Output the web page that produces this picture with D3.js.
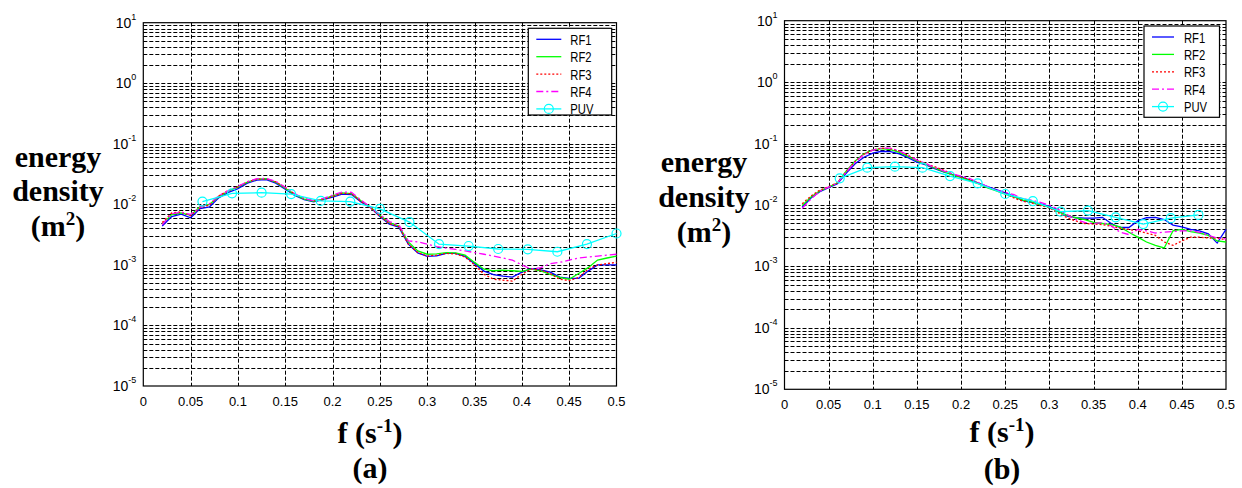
<!DOCTYPE html>
<html lang="en">
<head>
<meta charset="utf-8">
<title>Energy density spectra RF vs PUV</title>
<script src="https://d3js.org/d3.v7.min.js"></script>
<style>
body { margin: 0; background: #fff; }
.tick-label { font-family: "Liberation Sans", Arial, sans-serif; font-size: 13px; fill: #000; }
.big { font-family: "Liberation Serif", "Times New Roman", serif; font-weight: bold; font-size: 30px; fill: #000; }
.leg { font-family: "Liberation Sans", Arial, sans-serif; font-size: 15px; fill: #000; }
</style>
</head>
<body>
<div id="chart"></div>
<script>
var width = 1242, height = 488;

// frequencies of the RF spectra (both panels)
var freq = [0.02,0.03,0.04,0.05,0.06,0.07,0.08,0.09,0.10,0.11,0.12,0.13,0.14,0.15,0.16,0.17,0.18,0.19,0.20,
            0.21,0.22,0.23,0.24,0.25,0.26,0.27,0.28,0.29,0.30,0.31,0.32,0.33,0.34,0.35,0.36,0.37,0.38,0.39,0.40,
            0.41,0.42,0.43,0.44,0.45,0.46,0.47,0.48,0.49,0.50];

// panel (a)
var a_rf1 = [0.0044,0.0063,0.0069,0.0060,0.0085,0.0091,0.0129,0.0158,0.0182,0.0224,0.0251,0.0257,0.0224,0.0178,0.0141,0.0120,0.0110,0.0120,0.0132,
             0.0148,0.0145,0.0110,0.0089,0.0063,0.0047,0.0042,0.0022,0.00158,0.00138,0.00141,0.00155,0.00155,0.00138,0.00105,0.00079,0.00069,0.00065,0.00063,0.00076,
             0.00087,0.00083,0.00076,0.00063,0.00060,0.00060,0.00079,0.0010,0.0010,0.0010];
var a_rf2 = [0.0047,0.0068,0.0072,0.0066,0.0092,0.0100,0.0135,0.0165,0.0192,0.0232,0.0262,0.0265,0.0232,0.0185,0.0145,0.0122,0.0112,0.0122,0.0138,
             0.0155,0.0150,0.0115,0.0090,0.0066,0.0050,0.0044,0.0024,0.0017,0.00150,0.00152,0.00160,0.00158,0.00145,0.00110,0.00085,0.00080,0.00082,0.00080,0.00078,
             0.00085,0.00080,0.00070,0.00062,0.00058,0.00072,0.00090,0.00120,0.00130,0.00140];
var a_rf3 = [0.0050,0.0072,0.0075,0.0065,0.0088,0.0098,0.0138,0.0170,0.0195,0.0235,0.0260,0.0262,0.0235,0.0190,0.0148,0.0125,0.0114,0.0120,0.0135,
             0.0152,0.0150,0.0112,0.0088,0.0064,0.0048,0.0043,0.0022,0.0016,0.00140,0.00145,0.00155,0.00152,0.00135,0.00100,0.00070,0.00058,0.00056,0.00054,0.00070,
             0.00085,0.00082,0.00072,0.00058,0.00055,0.00062,0.00085,0.00100,0.00105,0.00110];
var a_rf4 = [0.0046,0.0070,0.0074,0.0068,0.0090,0.0102,0.0140,0.0168,0.0198,0.0238,0.0265,0.0268,0.0240,0.0192,0.0150,0.0125,0.0115,0.0125,0.0142,
             0.0160,0.0158,0.0118,0.0090,0.0068,0.0052,0.0046,0.0025,0.0024,0.0022,0.0020,0.0019,0.0018,0.0017,0.0016,0.0015,0.0014,0.0013,0.0012,0.0010,
             0.00085,0.00090,0.00105,0.00110,0.00120,0.00130,0.00135,0.00140,0.00145,0.00150];
var a_puvFreq = [0.0625,0.09375,0.125,0.15625,0.1875,0.21875,0.25,0.28125,0.3125,0.34375,0.375,0.40625,0.4375,0.46875,0.5];
var a_puv = [0.0111,0.0152,0.0156,0.0148,0.0114,0.0111,0.0084,0.0051,0.0022,0.00205,0.00183,0.00181,0.00165,0.0022,0.0033];

// panel (b)
var b_rf1 = [0.0092,0.0130,0.0165,0.0192,0.0222,0.0330,0.0470,0.0600,0.0700,0.0750,0.0740,0.0680,0.0590,0.0500,0.0450,0.0390,0.0345,0.0315,0.0290,
             0.0255,0.0228,0.0200,0.0178,0.0158,0.0138,0.0118,0.0110,0.0104,0.0095,0.0080,0.0066,0.0062,0.0061,0.0061,0.0063,0.0050,0.0043,0.0043,0.0055,
             0.0062,0.0063,0.0058,0.0047,0.0044,0.0040,0.0038,0.0034,0.0024,0.0040];
var b_rf2 = [0.0098,0.0135,0.0170,0.0195,0.0230,0.0360,0.0520,0.0680,0.0790,0.0830,0.0800,0.0720,0.0620,0.0520,0.0460,0.0400,0.0350,0.0310,0.0280,
             0.0250,0.0220,0.0190,0.0170,0.0150,0.0135,0.0120,0.0112,0.0100,0.0092,0.0078,0.0068,0.0062,0.0058,0.0052,0.0050,0.0048,0.0044,0.0036,0.0030,
             0.0025,0.0022,0.0020,0.0038,0.0040,0.0037,0.0035,0.0032,0.0026,0.0025];
var b_rf3 = [0.0105,0.0140,0.0175,0.0198,0.0230,0.0350,0.0510,0.0670,0.0790,0.0840,0.0830,0.0750,0.0640,0.0540,0.0470,0.0420,0.0370,0.0320,0.0285,
             0.0260,0.0225,0.0195,0.0172,0.0152,0.0130,0.0115,0.0108,0.0098,0.0090,0.0075,0.0062,0.0055,0.0050,0.0049,0.0048,0.0045,0.0042,0.0040,0.0038,
             0.0035,0.0032,0.0025,0.0022,0.0026,0.0030,0.0030,0.0029,0.0029,0.0027];
var b_rf4 = [0.0088,0.0125,0.0168,0.0196,0.0228,0.0345,0.0500,0.0660,0.0780,0.0840,0.0840,0.0760,0.0650,0.0540,0.0470,0.0410,0.0360,0.0320,0.0295,
             0.0270,0.0230,0.0200,0.0175,0.0160,0.0148,0.0125,0.0120,0.0110,0.0100,0.0085,0.0070,0.0058,0.0052,0.0050,0.0052,0.0046,0.0036,0.0033,0.0040,
             0.0038,0.0035,0.0036,0.0037,0.0038,0.0038,0.0036,0.0032,0.0029,0.0028];
var b_puvFreq = [0.0625,0.09375,0.125,0.15625,0.1875,0.21875,0.25,0.28125,0.3125,0.34375,0.375,0.40625,0.4375,0.46875];
var b_puv = [0.0272,0.0405,0.042,0.0405,0.0296,0.0225,0.0151,0.0116,0.0078,0.0081,0.0063,0.0049,0.0061,0.0069];

// axis ticks and legend
var xTicks = [0,0.05,0.1,0.15,0.2,0.25,0.3,0.35,0.4,0.45,0.5];
var xTickLabels = ["0","0.05","0.1","0.15","0.2","0.25","0.3","0.35","0.4","0.45","0.5"];
var yExponents = [1,0,-1,-2,-3,-4,-5];
var seriesNames = ["RF1","RF2","RF3","RF4","PUV"];
var seriesColors = ["#0000ff","#00ff00","#ff0000","#ff00ff","#00ffff"];
var seriesDash = [null,null,"2,2","7,3,2,3",null];

var svg = d3.select("#chart").append("svg")
  .attr("width", width)
  .attr("height", height);

function panel(cfg) {
  var x = d3.scaleLinear().domain([0, 0.5]).range([cfg.x0, cfg.x1]);
  var y = d3.scaleLog().domain([1e-5, 10]).range([cfg.y1, cfg.y0]);
  var g = svg.append("g");

  // grid
  var yg = y.ticks().filter(function(v) { return v > 1.0001e-5 && v < 9.999; });
  g.selectAll(".hg").data(yg).enter().append("line")
    .attr("x1", cfg.x0).attr("x2", cfg.x1)
    .attr("y1", function(d) { return Math.round(y(d)) + 0.5; })
    .attr("y2", function(d) { return Math.round(y(d)) + 0.5; })
    .attr("stroke", "#000").attr("stroke-width", 1)
    .attr("stroke-dasharray", "4,2");
  g.selectAll(".vg").data(xTicks.slice(1, -1)).enter().append("line")
    .attr("y1", cfg.y0).attr("y2", cfg.y1)
    .attr("x1", function(d) { return Math.round(x(d)) + 0.5; })
    .attr("x2", function(d) { return Math.round(x(d)) + 0.5; })
    .attr("stroke", "#000").attr("stroke-width", 1)
    .attr("stroke-dasharray", "4,2");

  // box
  g.append("rect")
    .attr("x", cfg.x0).attr("y", cfg.y0)
    .attr("width", cfg.x1 - cfg.x0).attr("height", cfg.y1 - cfg.y0)
    .attr("fill", "none").attr("stroke", "#000").attr("stroke-width", 1.2);

  // x tick labels
  g.selectAll(".xl").data(xTicks).enter().append("text")
    .attr("class", "tick-label")
    .attr("x", function(d) { return x(d); })
    .attr("y", cfg.y1 + 20)
    .attr("text-anchor", "middle")
    .text(function(d, i) { return xTickLabels[i]; });

  // y tick labels
  var yl = g.selectAll(".yl").data(yExponents).enter().append("text")
    .attr("class", "tick-label")
    .attr("x", cfg.x0 - 7)
    .attr("y", function(d) { return y(Math.pow(10, d)) + 5; })
    .attr("text-anchor", "end");
  yl.append("tspan").style("font-size", "14px").text("10");
  yl.append("tspan").attr("dy", -8).style("font-size", "9px").text(function(d) { return d; });

  // series
  var line = d3.line()
    .x(function(d) { return x(d[0]); })
    .y(function(d) { return y(d[1]); });
  cfg.rf.forEach(function(vals, i) {
    g.append("path")
      .datum(freq.map(function(f, j) { return [f, vals[j]]; }))
      .attr("d", line)
      .attr("fill", "none")
      .attr("stroke", seriesColors[i])
      .attr("stroke-width", 1.3)
      .attr("stroke-dasharray", seriesDash[i]);
  });
  var puvPts = cfg.puvFreq.map(function(f, j) { return [f, cfg.puv[j]]; });
  g.append("path").datum(puvPts)
    .attr("d", line).attr("fill", "none")
    .attr("stroke", seriesColors[4]).attr("stroke-width", 1.3);
  g.selectAll(".pm").data(puvPts).enter().append("circle")
    .attr("cx", function(d) { return x(d[0]); })
    .attr("cy", function(d) { return y(d[1]); })
    .attr("r", 4.5)
    .attr("fill", "none").attr("stroke", seriesColors[4]).attr("stroke-width", 1.2);

  // legend
  var L = cfg.legend;
  var lg = g.append("g");
  lg.append("rect")
    .attr("x", L.x).attr("y", L.y).attr("width", L.w).attr("height", L.h)
    .attr("fill", "#fff").attr("stroke", "#000").attr("stroke-width", 1.2);
  seriesNames.forEach(function(name, i) {
    var yy = L.y + 11 + i * 17.4;
    lg.append("line")
      .attr("x1", L.x + 8).attr("x2", L.x + 8 + L.lw)
      .attr("y1", yy).attr("y2", yy)
      .attr("stroke", seriesColors[i]).attr("stroke-width", 1.3)
      .attr("stroke-dasharray", seriesDash[i]);
    if (i === 4) {
      lg.append("circle").attr("cx", L.x + 8 + L.lw / 2).attr("cy", yy).attr("r", 4.5)
        .attr("fill", "none").attr("stroke", seriesColors[i]).attr("stroke-width", 1.2);
    }
    lg.append("text")
      .attr("class", "leg")
      .attr("transform", "translate(" + (L.x + L.tx) + "," + (yy + 5.5) + ") scale(0.75,1)")
      .text(name);
  });

  // axis titles
  var xt = g.append("text").attr("class", "big")
    .attr("x", cfg.xtX).attr("y", cfg.xtY).attr("text-anchor", "middle");
  xt.append("tspan").text("f (s");
  xt.append("tspan").attr("dy", -11).style("font-size", "19px").text("-1");
  xt.append("tspan").attr("dy", 11).text(")");
  g.append("text").attr("class", "big")
    .attr("x", cfg.xtX).attr("y", cfg.capY).attr("text-anchor", "middle")
    .text(cfg.caption);

  g.append("text").attr("class", "big")
    .attr("x", cfg.ytX).attr("y", cfg.ytY[0]).attr("text-anchor", "middle").text("energy");
  g.append("text").attr("class", "big")
    .attr("x", cfg.ytX).attr("y", cfg.ytY[1]).attr("text-anchor", "middle").text("density");
  var m2 = g.append("text").attr("class", "big")
    .attr("x", cfg.ytX).attr("y", cfg.ytY[2]).attr("text-anchor", "middle");
  m2.append("tspan").text("(m");
  m2.append("tspan").attr("dy", -11).style("font-size", "19px").text("2");
  m2.append("tspan").attr("dy", 11).text(")");
}

panel({
  x0: 143.3, x1: 616.5, y0: 22.7, y1: 386,
  rf: [a_rf1, a_rf2, a_rf3, a_rf4], puvFreq: a_puvFreq, puv: a_puv,
  legend: { x: 528.3, y: 28.3, w: 83.4, h: 86.7, lw: 25, tx: 42 },
  xtX: 370, xtY: 443, capY: 478, caption: "(a)",
  ytX: 58, ytY: [167, 201, 236]
});
panel({
  x0: 784.5, x1: 1226, y0: 20.7, y1: 389.3,
  rf: [b_rf1, b_rf2, b_rf3, b_rf4], puvFreq: b_puvFreq, puv: b_puv,
  legend: { x: 1144, y: 26, w: 75.5, h: 91.3, lw: 22, tx: 40 },
  xtX: 1002, xtY: 442, capY: 479, caption: "(b)",
  ytX: 704, ytY: [172, 207, 242]
});
</script>
</body>
</html>
